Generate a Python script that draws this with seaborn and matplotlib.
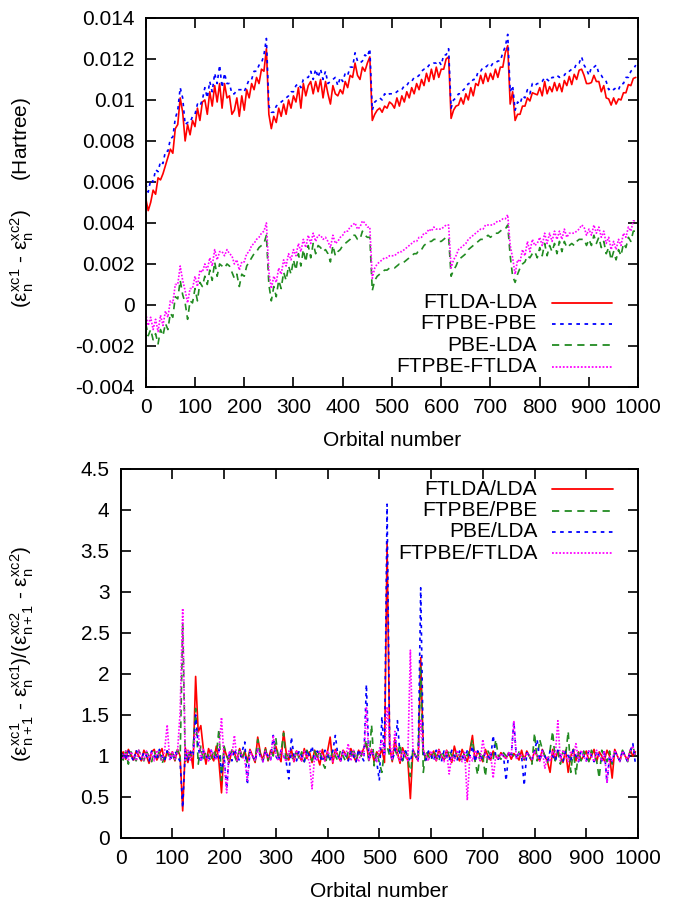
import numpy as np
import matplotlib
matplotlib.use('Agg')
import matplotlib.pyplot as plt
import seaborn as sns
from matplotlib.ticker import FuncFormatter, MultipleLocator

# ---------------- data (every 5th orbital) ----------------
# top panel, eigenvalue differences in units of 1e-5 Hartree
ftlda_lda = [
    520, 460, 500, 560, 540, 620, 610, 640, 680, 720, 760, 740, 860, 880, 1010, 940, 800, 880, 830, 900,
    870, 960, 900, 990, 1000, 930, 1040, 970, 1070, 990, 1080, 960, 1080, 1010, 1020, 930, 950, 1010, 920, 1020,
    950, 1050, 1010, 1080, 1050, 1110, 1080, 1150, 1140, 1250, 930, 860, 920, 890, 960, 920, 980, 930, 1000, 960,
    1020, 990, 1060, 960, 1080, 1020, 1070, 1090, 1030, 1090, 1040, 1100, 1010, 1090, 1030, 980, 1070, 1030, 1020, 1050,
    1030, 1090, 1060, 1120, 1110, 1180, 1120, 1100, 1160, 1140, 1180, 1210, 900, 930, 950, 960, 940, 970, 960, 990,
    980, 960, 1010, 970, 1020, 990, 1040, 1010, 1060, 1030, 1080, 1050, 1100, 1070, 1130, 1090, 1150, 1100, 1160, 1110,
    1150, 1150, 1200, 1210, 910, 950, 970, 975, 1010, 980, 1030, 1000, 1060, 1020, 1080, 1070, 1120, 1080, 1130, 1090,
    1130, 1100, 1150, 1110, 1160, 1160, 1230, 1265, 980, 1040, 900, 930, 930, 970, 970, 1010, 995, 1035, 1030, 1025,
    1060, 1020, 1090, 1030, 1065, 1040, 1085, 1045, 1080, 1040, 1095, 1070, 1115, 1075, 1125, 1100, 1145, 1150, 1120, 1080,
    1080, 1085, 1120, 1090, 1090, 1040, 1070, 1010, 1005, 975, 1010, 980, 1005, 1000, 1035, 1035, 1075, 1070, 1105, 1110,
]
ftpbe_pbe = [
    590, 550, 610, 600, 660, 650, 700, 690, 750, 750, 810, 820, 910, 950, 1060, 1010, 880, 890, 890, 920,
    930, 980, 970, 1000, 1060, 1010, 1090, 1040, 1130, 1080, 1170, 1060, 1130, 1080, 1080, 1030, 1030, 1050, 1050, 1050,
    1040, 1070, 1100, 1100, 1140, 1140, 1170, 1180, 1220, 1300, 970, 940, 940, 970, 980, 990, 1000, 1010, 1020, 1040,
    1040, 1070, 1080, 1060, 1100, 1110, 1110, 1140, 1100, 1150, 1110, 1150, 1100, 1140, 1080, 1090, 1100, 1110, 1070, 1110,
    1090, 1130, 1120, 1160, 1160, 1230, 1190, 1180, 1190, 1220, 1210, 1250, 950, 990, 1000, 1010, 1000, 1030, 1020, 1030,
    1030, 1030, 1040, 1050, 1050, 1070, 1070, 1090, 1090, 1110, 1110, 1120, 1140, 1150, 1150, 1170, 1170, 1180, 1180, 1190,
    1170, 1220, 1220, 1250, 960, 1000, 1010, 1030, 1030, 1050, 1060, 1080, 1080, 1100, 1100, 1140, 1140, 1160, 1160, 1170,
    1160, 1180, 1180, 1190, 1190, 1230, 1260, 1320, 1040, 1070, 950, 990, 980, 1020, 1010, 1050, 1030, 1080, 1070, 1080,
    1080, 1090, 1110, 1100, 1090, 1110, 1110, 1120, 1110, 1120, 1120, 1140, 1140, 1150, 1150, 1180, 1180, 1210, 1170, 1150,
    1120, 1160, 1160, 1170, 1130, 1120, 1100, 1090, 1050, 1060, 1050, 1060, 1050, 1080, 1080, 1110, 1110, 1140, 1150, 1170,
]
pbe_lda = [
    -90, -150, -120, -170, -140, -190, -120, -150, -90, -120, -40, -60, 40, 30, 120, 50, 10, -70, 20, 10,
    80, 20, 110, 90, 140, 100, 170, 120, 210, 140, 200, 190, 180, 200, 190, 160, 130, 150, 90, 150,
    140, 190, 210, 230, 250, 260, 280, 290, 300, 340, 100, 20, 90, 40, 120, 80, 160, 120, 190, 150,
    220, 170, 250, 190, 270, 210, 290, 230, 300, 250, 290, 280, 260, 270, 250, 210, 290, 240, 260, 270,
    290, 300, 310, 320, 340, 340, 320, 320, 360, 340, 330, 330, 70, 120, 140, 150, 160, 170, 170, 180,
    180, 180, 190, 200, 200, 210, 220, 230, 240, 250, 250, 270, 270, 290, 300, 310, 310, 320, 320, 310,
    310, 320, 330, 330, 140, 170, 190, 220, 230, 240, 250, 270, 280, 290, 300, 310, 320, 320, 330, 340,
    330, 340, 350, 350, 360, 370, 370, 390, 240, 140, 110, 150, 180, 200, 210, 240, 230, 250, 260, 230,
    280, 240, 300, 240, 290, 260, 300, 250, 310, 260, 310, 280, 290, 300, 290, 310, 320, 320, 320, 290,
    320, 290, 340, 300, 330, 280, 310, 250, 280, 220, 260, 220, 270, 240, 300, 280, 330, 310, 360, 360,
]
ftpbe_ftlda = [
    -40, -100, -60, -120, -70, -130, -50, -100, -30, -60, 20, 10, 100, 100, 190, 120, 70, 10, 80, 80,
    140, 90, 170, 160, 200, 170, 230, 190, 270, 220, 260, 260, 240, 270, 250, 240, 200, 220, 170, 210,
    210, 250, 260, 290, 300, 320, 330, 350, 360, 400, 160, 80, 140, 110, 180, 150, 220, 190, 250, 220,
    270, 240, 300, 260, 320, 280, 340, 300, 350, 310, 340, 340, 320, 330, 310, 280, 340, 300, 310, 330,
    340, 360, 360, 380, 390, 400, 370, 380, 410, 400, 380, 380, 130, 180, 200, 210, 220, 230, 230, 240,
    240, 240, 250, 260, 260, 270, 280, 290, 300, 310, 310, 330, 330, 350, 350, 370, 360, 380, 370, 370,
    370, 380, 390, 390, 180, 220, 240, 270, 280, 290, 300, 320, 330, 340, 350, 360, 370, 370, 390, 390,
    390, 390, 400, 410, 410, 420, 420, 440, 290, 230, 150, 220, 210, 270, 240, 310, 260, 320, 290, 300,
    330, 290, 350, 300, 350, 310, 360, 320, 360, 320, 370, 330, 350, 350, 350, 360, 370, 390, 380, 340,
    370, 340, 390, 350, 380, 330, 360, 300, 330, 270, 310, 270, 320, 290, 350, 330, 380, 360, 410, 410,
]

# bottom panel, ratios of successive eigenvalue gaps
r_ftlda_lda = [
    1.00, 1.05, 0.96, 1.08, 1.02, 0.95, 1.06, 1.00, 0.94, 1.07, 1.00, 0.91, 1.05, 1.08, 0.95, 1.02, 1.09, 0.93, 1.06, 1.00,
    1.05, 0.94, 1.08, 1.00, 0.33, 1.10, 0.92, 1.06, 0.85, 1.97, 1.29, 1.37, 1.08, 0.90, 1.09, 1.00, 0.94, 1.12, 0.93, 0.55,
    1.10, 1.00, 0.92, 1.07, 1.04, 0.94, 1.09, 0.98, 1.06, 0.93, 1.08, 1.00, 0.92, 1.23, 1.04, 0.95, 1.10, 0.94, 1.07, 1.02,
    1.12, 1.00, 0.93, 1.30, 1.04, 0.95, 1.08, 0.93, 1.06, 1.00, 0.94, 1.09, 0.97, 1.05, 0.92, 1.07, 1.00, 0.89, 1.08, 0.94,
    1.06, 1.23, 0.91, 1.08, 1.00, 0.94, 1.07, 1.02, 0.95, 1.09, 1.00, 0.93, 1.07, 1.00, 1.10, 1.14, 0.95, 1.08, 0.93, 1.05,
    1.00, 1.08, 0.92, 3.60, 1.12, 0.93, 1.20, 1.04, 0.91, 1.10, 1.00, 0.95, 0.48, 1.08, 1.00, 0.94, 2.20, 1.07, 0.95, 1.05,
    1.00, 1.06, 0.94, 1.08, 1.00, 0.95, 1.07, 1.00, 0.92, 1.12, 1.00, 0.94, 1.08, 1.00, 0.93, 1.07, 1.25, 0.94, 1.06, 1.00,
    0.93, 1.08, 1.00, 0.95, 1.06, 1.00, 0.96, 1.04, 1.00, 0.97, 1.04, 0.96, 1.03, 1.00, 0.95, 1.07, 0.95, 1.06, 1.00, 0.93,
    1.07, 1.00, 0.94, 1.08, 1.00, 0.93, 0.80, 1.08, 0.95, 1.06, 1.00, 0.92, 1.07, 0.80, 1.00, 1.08, 0.94, 1.05, 0.95, 1.00,
    1.06, 0.94, 1.00, 1.08, 0.93, 1.05, 1.00, 0.94, 1.07, 1.00, 0.73, 1.08, 1.00, 0.94, 1.06, 1.00, 0.95, 1.07, 1.00, 1.05,
]
r_ftpbe_pbe = [
    1.00, 0.95, 1.06, 0.90, 1.05, 1.00, 0.94, 1.07, 1.00, 0.94, 1.05, 1.00, 0.93, 1.06, 0.95, 1.07, 0.90, 1.00, 1.06, 0.95,
    1.05, 0.95, 1.07, 0.94, 2.62, 0.92, 1.06, 0.95, 1.08, 1.58, 0.90, 1.12, 0.94, 1.06, 1.00, 0.93, 1.08, 1.00, 1.33, 0.70,
    1.12, 1.00, 0.94, 1.07, 1.00, 0.93, 1.10, 0.95, 1.05, 0.92, 1.06, 1.00, 0.94, 1.20, 1.00, 0.94, 1.08, 0.95, 1.06, 1.00,
    1.22, 0.95, 1.05, 1.28, 0.92, 1.06, 1.00, 0.94, 1.08, 0.96, 1.05, 0.93, 1.07, 1.00, 0.94, 1.06, 0.96, 1.08, 0.92, 0.85,
    1.05, 0.94, 1.08, 1.00, 0.94, 1.07, 1.00, 0.93, 1.06, 1.00, 1.09, 0.94, 1.06, 1.00, 1.08, 1.20, 0.92, 1.38, 0.88, 1.05,
    0.92, 0.80, 1.08, 1.12, 1.00, 0.95, 1.08, 1.00, 1.15, 0.94, 1.06, 1.00, 0.75, 1.08, 1.00, 0.94, 2.10, 0.80, 1.06, 1.00,
    0.94, 1.07, 1.00, 0.93, 1.06, 1.00, 0.94, 1.08, 1.00, 0.94, 1.06, 1.00, 0.93, 1.06, 1.00, 1.08, 1.20, 0.94, 0.77, 1.05,
    1.00, 0.75, 1.06, 1.00, 0.95, 1.20, 1.00, 0.96, 1.04, 1.00, 0.97, 1.03, 1.00, 0.96, 1.05, 1.00, 0.96, 1.04, 1.00, 0.90,
    1.28, 0.94, 1.20, 1.08, 1.00, 0.92, 1.07, 1.30, 0.94, 1.05, 0.90, 1.06, 1.00, 1.30, 0.80, 1.08, 0.77, 1.05, 0.94, 1.06,
    1.00, 0.93, 1.07, 1.00, 0.94, 0.73, 1.07, 1.00, 0.93, 1.06, 0.90, 1.05, 1.00, 0.94, 1.07, 1.00, 0.93, 1.06, 1.12, 1.00,
]
r_pbe_lda = [
    1.00, 1.05, 0.95, 1.06, 1.00, 0.94, 1.07, 1.00, 0.95, 1.05, 1.00, 0.94, 1.06, 1.00, 0.95, 1.08, 1.00, 0.94, 1.06, 1.00,
    0.95, 1.06, 1.00, 0.93, 0.37, 1.08, 0.94, 1.05, 1.00, 1.50, 1.12, 0.92, 1.06, 1.00, 0.94, 1.07, 1.00, 0.95, 1.08, 0.80,
    1.00, 0.60, 1.06, 0.94, 1.08, 1.00, 0.94, 1.06, 1.17, 0.65, 1.06, 1.00, 0.94, 1.08, 1.00, 0.93, 1.06, 1.00, 0.95, 1.25,
    1.00, 0.94, 1.07, 1.00, 0.93, 0.72, 1.23, 1.00, 0.94, 1.06, 1.00, 0.93, 1.07, 1.00, 1.12, 0.94, 1.06, 1.00, 0.93, 1.07,
    1.00, 0.94, 1.06, 1.25, 1.00, 0.93, 1.07, 1.00, 0.94, 1.06, 1.00, 0.93, 1.08, 1.00, 0.94, 1.87, 0.95, 1.06, 1.00, 0.93,
    0.70, 1.48, 1.00, 4.07, 1.08, 0.94, 1.06, 1.43, 1.00, 0.94, 1.07, 1.00, 0.93, 1.08, 1.00, 0.94, 3.05, 1.05, 0.95, 1.06,
    1.00, 0.94, 1.07, 1.00, 0.93, 1.06, 1.00, 0.94, 1.07, 1.00, 0.94, 1.06, 1.00, 0.93, 1.07, 1.00, 1.12, 0.93, 1.06, 1.00,
    0.96, 1.04, 1.00, 0.96, 1.25, 1.00, 0.96, 1.03, 1.00, 0.70, 1.04, 1.00, 1.42, 0.97, 1.03, 1.00, 0.64, 1.04, 1.00, 0.96,
    1.06, 1.20, 0.94, 1.07, 1.00, 0.93, 1.06, 1.00, 0.94, 1.07, 1.00, 0.93, 1.06, 1.00, 0.94, 1.07, 1.00, 0.93, 1.06, 1.00,
    0.94, 1.07, 1.00, 0.93, 1.06, 1.00, 0.94, 1.07, 0.67, 1.00, 0.93, 1.06, 1.00, 0.94, 1.07, 1.00, 0.93, 1.06, 1.15, 0.90,
]
r_ftpbe_ftlda = [
    1.02, 0.96, 1.06, 0.95, 1.05, 1.00, 0.94, 1.07, 1.00, 0.95, 1.06, 0.97, 1.05, 0.94, 1.07, 1.00, 0.95, 1.06, 1.38, 0.94,
    1.06, 0.96, 1.05, 1.53, 2.80, 0.93, 1.07, 0.95, 1.05, 1.30, 1.30, 0.94, 1.08, 1.00, 0.94, 1.07, 1.00, 0.95, 1.06, 1.47,
    0.94, 0.55, 1.06, 1.00, 1.25, 0.94, 1.07, 1.00, 0.95, 0.70, 1.06, 1.00, 0.94, 1.08, 1.00, 0.93, 1.06, 1.00, 0.95, 1.25,
    1.00, 0.94, 1.07, 1.00, 0.93, 1.06, 1.00, 0.94, 1.07, 1.00, 0.94, 1.06, 1.00, 0.93, 0.60, 1.00, 0.94, 1.07, 1.00, 0.94,
    1.06, 1.00, 0.93, 1.07, 1.00, 0.94, 1.06, 1.00, 1.15, 0.94, 1.07, 1.00, 0.93, 1.06, 1.00, 1.60, 0.94, 1.07, 1.00, 0.93,
    1.08, 1.20, 1.00, 1.60, 1.20, 0.95, 1.30, 1.00, 0.94, 1.07, 1.00, 0.94, 2.29, 1.06, 1.00, 0.94, 1.45, 1.07, 1.00, 0.94,
    1.06, 1.00, 0.94, 1.07, 1.00, 0.93, 1.06, 0.78, 1.00, 0.94, 1.07, 1.00, 0.93, 1.06, 0.46, 1.00, 0.94, 1.07, 1.00, 0.94,
    1.20, 1.00, 0.96, 1.04, 0.73, 1.00, 0.96, 1.03, 1.00, 0.96, 1.04, 1.00, 1.43, 0.96, 1.03, 1.00, 0.96, 1.04, 1.00, 0.96,
    1.06, 1.00, 0.94, 1.07, 0.85, 1.00, 0.93, 1.06, 1.00, 1.43, 0.94, 1.07, 1.00, 0.93, 1.06, 1.00, 1.15, 0.94, 1.07, 1.00,
    0.94, 1.06, 1.00, 0.93, 1.07, 1.00, 0.94, 1.06, 0.67, 1.00, 0.94, 1.07, 1.00, 0.93, 1.06, 1.00, 0.94, 1.07, 1.12, 1.00,
]

top_labels = ['FTLDA-LDA', 'FTPBE-PBE', 'PBE-LDA', 'FTPBE-FTLDA']
bot_labels = ['FTLDA/LDA', 'FTPBE/PBE', 'PBE/LDA', 'FTPBE/FTLDA']
x_ticks = [0, 100, 200, 300, 400, 500, 600, 700, 800, 900, 1000]

# ---------------- style ----------------
sns.set_style('ticks')
plt.rcParams['font.family'] = ['Liberation Sans', 'DejaVu Sans']
plt.rcParams['mathtext.fontset'] = 'custom'
plt.rcParams['mathtext.rm'] = 'Liberation Sans'
plt.rcParams['mathtext.it'] = 'Liberation Sans'
plt.rcParams['mathtext.default'] = 'rm'
plt.rcParams['text.color'] = 'black'
plt.rcParams['axes.labelcolor'] = 'black'

FS = 15
RED, BLUE, GREEN, MAG = '#ff0000', '#0000ff', '#228b22', '#ff00ff'
SOLID = '-'
SHORTDASH = (0, (2.0, 2.5))
DASH = (0, (4.0, 3.0))
DOT = (0, (1.0, 1.0))

fig = plt.figure(figsize=(6.81, 9.02), dpi=100)
ax1 = fig.add_axes([0.2140, 0.5710, 0.7232, 0.4091])
ax2 = fig.add_axes([0.1771, 0.0710, 0.7598, 0.4091])


def orbitals(vals):
    return np.arange(len(vals)) * 5


def style_axes(ax):
    for s in ax.spines.values():
        s.set_linewidth(1.4)
        s.set_color('black')
        s.set_visible(True)
    ax.tick_params(direction='in', length=7, width=1.2, top=True, right=True,
                   labelsize=FS, pad=8, colors='black')
    ax.set_xlim(0, 1000)
    ax.set_xticks(x_ticks)
    ax.yaxis.set_major_formatter(FuncFormatter(lambda v, p: '%g' % round(v, 6)))
    ax.set_xlabel('Orbital number', fontsize=FS, labelpad=10)


def manual_key(ax, labels, styles, ys, xt, xl0, xl1):
    for lab, (c, ls), yy in zip(labels, styles, ys):
        ax.text(xt, yy, lab, transform=ax.transAxes, ha='right', va='center', fontsize=FS)
        ax.plot([xl0, xl1], [yy, yy], transform=ax.transAxes, color=c, linestyle=ls,
                linewidth=1.3, clip_on=False)


# ---------------- top panel ----------------
top_series = [ftlda_lda, ftpbe_pbe, pbe_lda, ftpbe_ftlda]
top_styles = [(RED, SOLID), (BLUE, SHORTDASH), (GREEN, DASH), (MAG, DOT)]
for vals, (c, ls) in zip(top_series, top_styles):
    sns.lineplot(x=orbitals(vals), y=np.array(vals) * 1e-5, color=c, linestyle=ls,
                 linewidth=1.2, ax=ax1)
style_axes(ax1)
ax1.set_ylim(-0.004, 0.014)
ax1.yaxis.set_major_locator(MultipleLocator(0.002))
ax1.set_ylabel(r'$(\varepsilon_n^{xc1}$ - $\varepsilon_n^{xc2})$     (Hartree)', fontsize=FS)
ax1.yaxis.set_label_coords(-0.223, 0.5)
manual_key(ax1, top_labels, top_styles, [0.2285, 0.1707, 0.1130, 0.0553], 0.794, 0.824, 0.947)

# ---------------- bottom panel ----------------
bot_series = [r_ftlda_lda, r_ftpbe_pbe, r_pbe_lda, r_ftpbe_ftlda]
bot_styles = [(RED, SOLID), (GREEN, DASH), (BLUE, SHORTDASH), (MAG, DOT)]
for vals, (c, ls) in zip(bot_series, bot_styles):
    sns.lineplot(x=orbitals(vals), y=vals, color=c, linestyle=ls, linewidth=1.2, ax=ax2)
style_axes(ax2)
ax2.set_ylim(0, 4.5)
ax2.yaxis.set_major_locator(MultipleLocator(0.5))
ax2.set_ylabel(r'$(\varepsilon_{n+1}^{xc1}$ - $\varepsilon_n^{xc1})/(\varepsilon_{n+1}^{xc2}$ - $\varepsilon_n^{xc2})$',
               fontsize=FS)
ax2.yaxis.set_label_coords(-0.163, 0.5)
manual_key(ax2, bot_labels, bot_styles, [0.9444, 0.8864, 0.8295, 0.7710], 0.805, 0.833, 0.951)

fig.savefig('out.png', dpi=100)
